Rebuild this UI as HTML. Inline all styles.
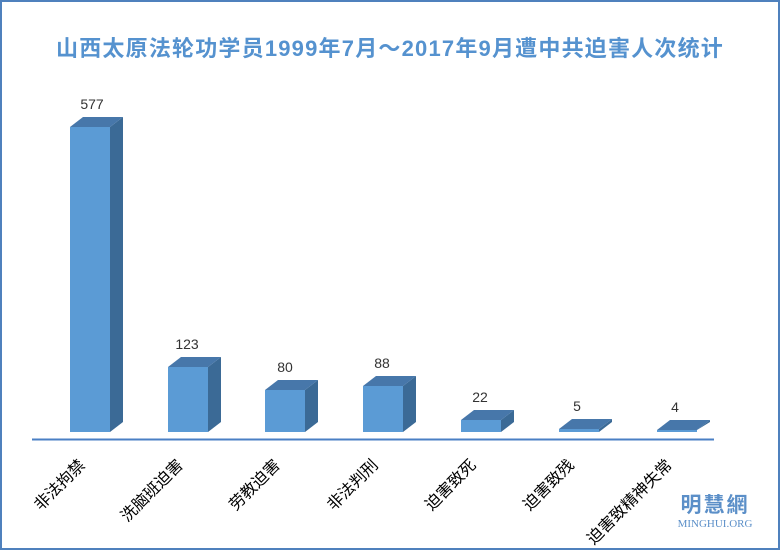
<!DOCTYPE html>
<html><head><meta charset="utf-8"><style>
html,body{margin:0;padding:0;background:#fff}
svg{display:block}
</style></head><body>
<svg width="780" height="550" xmlns="http://www.w3.org/2000/svg" font-family="'Liberation Sans','Noto Sans CJK SC',sans-serif">
<rect x="1" y="1" width="778" height="548" fill="#fff" stroke="#4f81bd" stroke-width="2"/>
<text x="390" y="56" text-anchor="middle" font-size="22" font-weight="bold" fill="#5592cf" letter-spacing="1.2">山西太原法轮功学员1999年7月～2017年9月遭中共迫害人次统计</text>
<line x1="32" y1="439.5" x2="714" y2="439.5" stroke="#4a7fc4" stroke-width="2"/>
<g font-size="14" fill="#333" text-anchor="middle">
<polygon points="110,127 123,117 123,422 110,432" fill="#3b6a96"/><polygon points="70,127 83,117 123,117 110,127" fill="#4777aa"/><rect x="70" y="127" width="40" height="305" fill="#5b9bd5"/><text x="92" y="109">577</text>
<polygon points="208,367 221,357 221,422 208,432" fill="#3b6a96"/><polygon points="168,367 181,357 221,357 208,367" fill="#4777aa"/><rect x="168" y="367" width="40" height="65" fill="#5b9bd5"/><text x="187" y="349">123</text>
<polygon points="305,390 318,380 318,422 305,432" fill="#3b6a96"/><polygon points="265,390 278,380 318,380 305,390" fill="#4777aa"/><rect x="265" y="390" width="40" height="42" fill="#5b9bd5"/><text x="285" y="372">80</text>
<polygon points="403,386 416,376 416,422 403,432" fill="#3b6a96"/><polygon points="363,386 376,376 416,376 403,386" fill="#4777aa"/><rect x="363" y="386" width="40" height="46" fill="#5b9bd5"/><text x="382" y="368">88</text>
<polygon points="501,420 514,410 514,422 501,432" fill="#3b6a96"/><polygon points="461,420 474,410 514,410 501,420" fill="#4777aa"/><rect x="461" y="420" width="40" height="12" fill="#5b9bd5"/><text x="480" y="402">22</text>
<polygon points="599,429 612,419 612,422 599,432" fill="#3b6a96"/><polygon points="559,429 572,419 612,419 599,429" fill="#4777aa"/><rect x="559" y="429" width="40" height="3" fill="#5b9bd5"/><text x="577" y="411">5</text>
<polygon points="697,430 710,420 710,422 697,430" fill="#3b6a96"/><polygon points="657,430 670,420 710,420 697,430" fill="#4777aa"/><rect x="657" y="430" width="40" height="2" fill="#5b9bd5"/><text x="675" y="412">4</text>
</g>
<g font-size="16" fill="#000" text-anchor="end">
<text transform="translate(86,466) rotate(-45)">非法拘禁</text>
<text transform="translate(184,466) rotate(-45)">洗脑班迫害</text>
<text transform="translate(281,466) rotate(-45)">劳教迫害</text>
<text transform="translate(379,466) rotate(-45)">非法判刑</text>
<text transform="translate(477,466) rotate(-45)">迫害致死</text>
<text transform="translate(575,466) rotate(-45)">迫害致残</text>
<text transform="translate(673,466) rotate(-45)">迫害致精神失常</text>
</g>
<text x="715" y="512" text-anchor="middle" font-size="21" font-weight="bold" fill="#5b8fc8" letter-spacing="2">明慧網</text>
<text x="715" y="527" text-anchor="middle" font-size="11" font-family="'Liberation Serif',serif" fill="#5b8fc8">MINGHUI.ORG</text>
</svg>
</body></html>
